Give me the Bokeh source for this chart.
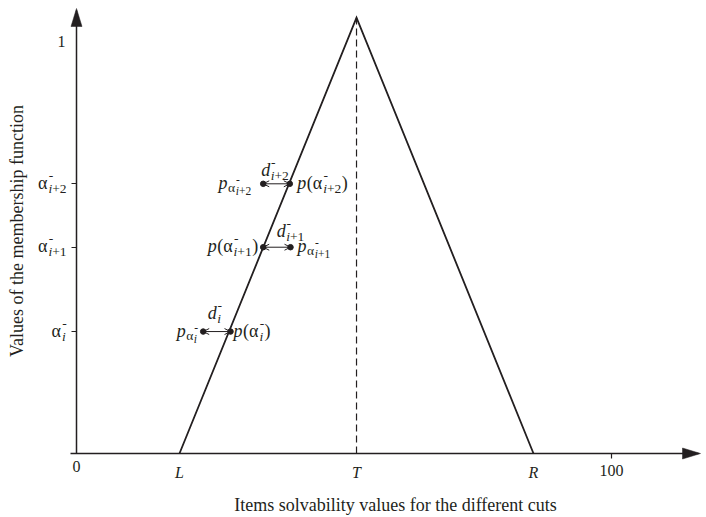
import math
from bokeh.plotting import figure
from bokeh.models import (Range1d, LinearAxis, FixedTicker, Arrow, OpenHead,
                          ColumnDataSource, LabelSet)
from bokeh.core.properties import value
from bokeh.embed import file_html
from bokeh.resources import INLINE

# ---------------- data ----------------
tri_x = [19.25, 52.34, 85.42]          # L, T, R
tri_y = [0.0, 1.058, 0.0]              # membership at L, T, R
x_letter_labels = ["L", "T", "R"]
x_zero_tick = [0]
x_hundred_tick = [100]
y_one_tick = [1]
cut_levels = [0.296, 0.5007, 0.6546]   # alpha_i, alpha_{i+1}, alpha_{i+2}
cut_index = [0, 1, 2]                  # i, i+1, i+2
line_pt_x = [28.79, 34.9, 39.87]       # p(alpha) on the left side of the triangle
pbar_x = [23.68, 40.0, 34.9]           # p-bar(alpha) points
x_title = "Items solvability values for the different cuts"
y_title = "Values of the membership function"

# ---------------- layout / style ----------------
INK = "#231f20"
FONT = "Liberation Serif"
W, H = 706, 517
X0_PX, Y0_PX = 76, 453          # pixel of the origin
PX_X, PX_Y = 5.35, 412.0        # pixels per data unit
XMIN, XMAX = -X0_PX / PX_X, (W - X0_PX) / PX_X
YMIN, YMAX = -(H - Y0_PX) / PX_Y, Y0_PX / PX_Y
X_TIP = (700 - X0_PX) / PX_X    # end of the x-axis arrow
Y_TIP = (Y0_PX - 8) / PX_Y      # end of the y-axis arrow

p = figure(width=W, height=H, x_range=Range1d(XMIN, XMAX), y_range=Range1d(YMIN, YMAX),
           x_axis_type=None, y_axis_type=None, output_backend="svg",
           toolbar_location=None, min_border=0)
p.outline_line_color = None
p.background_fill_color = "white"
p.border_fill_color = "white"


def style_axis(ax, size="16px", fstyle="normal"):
    ax.fixed_location = 0
    ax.major_label_text_font = FONT
    ax.major_label_text_font_size = size
    ax.major_label_text_font_style = fstyle
    ax.major_label_text_color = INK
    ax.minor_tick_line_color = None
    ax.minor_tick_out = 0
    ax.minor_tick_in = 0
    ax.major_tick_in = 0
    ax.axis_line_color = INK
    ax.axis_line_width = 1.5
    ax.major_tick_line_color = INK
    ax.major_tick_line_width = 1.2


def no_rule(ax):
    ax.axis_line_color = None
    ax.major_tick_out = 0
    ax.major_tick_line_color = None


# x axis (line + tick at 100)
xa = LinearAxis(ticker=FixedTicker(ticks=x_hundred_tick), bounds=(-6 / PX_X, X_TIP - 2 / PX_X))
style_axis(xa)
xa.major_tick_out = 5
xa.major_label_standoff = 6
p.add_layout(xa, "below")

xa0 = LinearAxis(ticker=FixedTicker(ticks=x_zero_tick))
style_axis(xa0)
no_rule(xa0)
xa0.major_label_standoff = 7
p.add_layout(xa0, "below")

xal = LinearAxis(ticker=FixedTicker(ticks=tri_x),
                 major_label_overrides=dict(zip(tri_x, x_letter_labels)))
style_axis(xal, fstyle="italic")
no_rule(xal)
xal.major_label_standoff = 10
p.add_layout(xal, "below")

# y axis (line + alpha ticks; labels composed below)
ya = LinearAxis(ticker=FixedTicker(ticks=cut_levels), bounds=(0, Y_TIP - 2 / PX_Y),
                major_label_overrides={v: "" for v in cut_levels})
style_axis(ya)
ya.major_tick_out = 5
ya.major_label_standoff = 0
p.add_layout(ya, "left")

ya1 = LinearAxis(ticker=FixedTicker(ticks=y_one_tick))
style_axis(ya1)
no_rule(ya1)
ya1.major_label_standoff = 11
p.add_layout(ya1, "left")

# axis arrow heads
HEAD_L, HEAD_W = 18, 5.5
p.patch([X_TIP, X_TIP - HEAD_L / PX_X, X_TIP - HEAD_L / PX_X],
        [0, HEAD_W / PX_Y, -HEAD_W / PX_Y], color=INK, line_width=0.5)
p.patch([0, HEAD_W / PX_X, -HEAD_W / PX_X],
        [Y_TIP, Y_TIP - HEAD_L / PX_Y, Y_TIP - HEAD_L / PX_Y], color=INK, line_width=0.5)

# axis titles
p.text(x=[(395 - X0_PX) / PX_X], y=[-(504 - Y0_PX) / PX_Y], text=[x_title],
       text_font=value(FONT), text_font_size="18px", text_color=INK,
       text_align="center", text_baseline="alphabetic")
p.text(x=[(16 - X0_PX) / PX_X], y=[(Y0_PX - 230.5) / PX_Y], text=[y_title],
       angle=math.pi / 2, text_font=value(FONT), text_font_size="18px", text_color=INK,
       text_align="center", text_baseline="alphabetic")

# membership triangle and dashed line at T
p.line(tri_x, tri_y, line_width=1.8, color=INK, line_join="miter")
p.line([tri_x[1], tri_x[1]], [0, tri_y[1]], line_width=1.2, color=INK, line_dash="7 4")

# double arrows between p(alpha) and p-bar(alpha)
arr_src = ColumnDataSource(dict(xs=pbar_x, xe=line_pt_x, y=cut_levels))
p.add_layout(Arrow(start=OpenHead(size=6, line_color=INK, line_width=1),
                   end=OpenHead(size=6, line_color=INK, line_width=1),
                   x_start="xs", y_start="y", x_end="xe", y_end="y",
                   line_color=INK, line_width=1, source=arr_src))
p.scatter(line_pt_x + pbar_x, cut_levels + cut_levels, size=5.5, color=INK)

# ---------------- composed math labels ----------------
F_MAIN, F_S1, F_S2 = 18, 13.5, 11.5
ADV = {"p": .5, "d": .5, "i": .278, "(": .333, ")": .333, "α": .55, "+": .564,
       "1": .5, "2": .5, "-": .333}


def adv(s, size):
    return sum(ADV[c] for c in s) * size


def idx_parts(k):
    parts = [("i", "italic")]
    if k:
        parts.append((f"+{k}", "normal"))
    return parts


def script(x, k, size, dy_sub, dy_sup):
    runs = [("-", size, "normal", x + 0.3, dy_sup)]
    cx = x
    for t, st in idx_parts(k):
        runs.append((t, size, st, cx, dy_sub))
        cx += adv(t, size)
    return runs, max(cx, x + adv("-", size))


def compose(kind, k):
    runs = []
    if kind in ("alpha", "d"):
        base = "α" if kind == "alpha" else "d"
        st = "normal" if kind == "alpha" else "italic"
        runs.append((base, F_MAIN, st, 0, 0))
        r, end = script(adv(base, F_MAIN) + 0.5, k, F_S1, 4, -9)
        runs += r
    elif kind == "paren":
        runs.append(("p", F_MAIN, "italic", 0, 0))
        x = adv("p", F_MAIN) + 0.5
        runs.append(("(α", F_MAIN, "normal", x, 0))
        x += adv("(α", F_MAIN) + 0.5
        r, end = script(x, k, F_S1, 4, -9)
        runs += r
        runs.append((")", F_MAIN, "normal", end + 0.5, 0))
        end += 0.5 + adv(")", F_MAIN)
    else:  # "psub"
        runs.append(("p", F_MAIN, "italic", 0, 0))
        x = adv("p", F_MAIN) + 0.5
        runs.append(("α", F_S1, "normal", x, 3))
        x += adv("α", F_S1) + 0.3
        r, end = script(x, k, F_S2, 6, -6)
        runs += r
    return runs, end


cols = dict(x=[], y=[], text=[], xo=[], yo=[], fs=[], fst=[])


def place(kind, k, ax, ay, align, dx, dy):
    runs, w = compose(kind, k)
    start = dx if align == "left" else (dx - w if align == "right" else dx - w / 2)
    for t, size, st, rx, ry in runs:
        cols["x"].append(ax)
        cols["y"].append(ay)
        cols["text"].append(t)
        cols["xo"].append(start + rx)
        cols["yo"].append(-(dy + ry))
        cols["fs"].append(f"{size}px")
        cols["fst"].append(st)


# per-row label layout: (kind, anchor-point, align, dx, dy) in pixels
row_layout = {
    0: [("psub", "pbar", "right", -5.5, 5), ("d", "pbar", "left", 4.5, -13),
        ("paren", "line", "left", 3, 5)],
    1: [("paren", "line", "right", -5, 5), ("d", "line", "left", 13.5, -10),
        ("psub", "pbar", "left", 7, 5)],
    2: [("psub", "pbar", "right", -12, 5), ("d", "pbar", "left", -2, -8),
        ("paren", "line", "left", 7.5, 5)],
}
for j, k in enumerate(cut_index):
    for kind, anchor, align, dx, dy in row_layout[k]:
        axv = pbar_x[j] if anchor == "pbar" else line_pt_x[j]
        place(kind, k, axv, cut_levels[j], align, dx, dy)
    # y-axis tick label
    place("alpha", k, 0, cut_levels[j], "right", -10, 5)

lab_src = ColumnDataSource(cols)
p.add_layout(LabelSet(x="x", y="y", text="text", x_offset="xo", y_offset="yo",
                      text_font_size="fs", text_font_style="fst",
                      text_font=value(FONT), text_color=INK,
                      text_baseline="alphabetic", text_align="left", source=lab_src))

open("out.html", "w").write(file_html(p, INLINE))
